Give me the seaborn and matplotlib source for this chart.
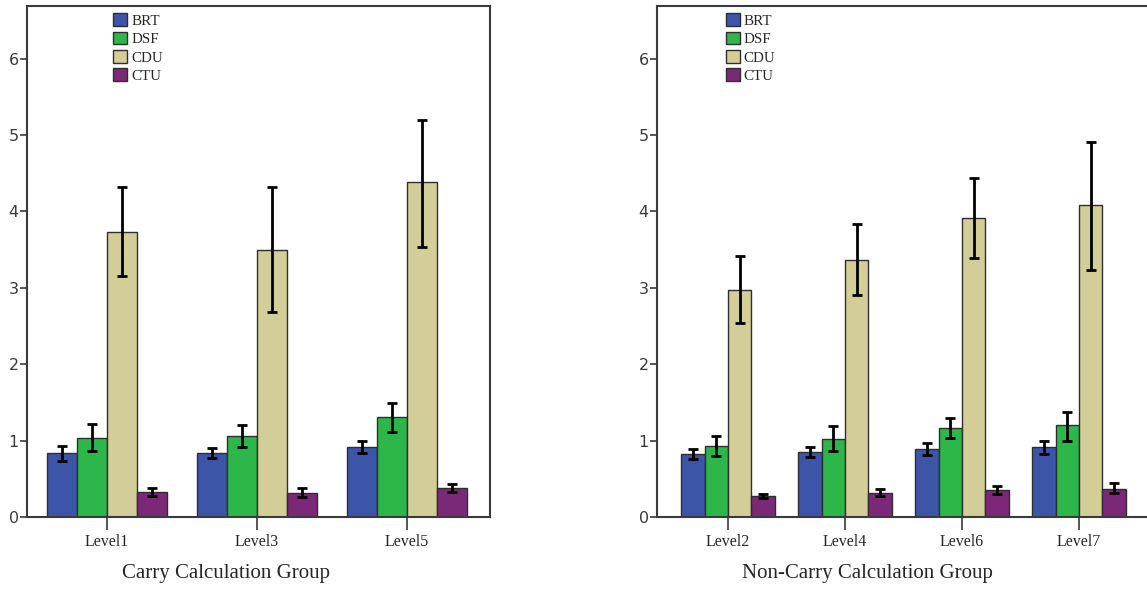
import matplotlib
matplotlib.use("Agg")
import numpy as np
import pandas as pd
import seaborn as sns
from matplotlib import pyplot as plt

# measures and colours
measures = ["BRT", "DSF", "CDU", "CTU"]
colors = ["#3d55a8", "#2db64a", "#d3ce97", "#7b2878"]

# carry calculation group
carry_levels = ["Level1", "Level3", "Level5"]
carry_means = {
    "BRT": [0.84, 0.84, 0.92],
    "DSF": [1.04, 1.06, 1.31],
    "CDU": [3.73, 3.50, 4.38],
    "CTU": [0.33, 0.32, 0.38],
}
carry_lower = {
    "BRT": [0.73, 0.77, 0.84],
    "DSF": [0.86, 0.92, 1.11],
    "CDU": [3.15, 2.68, 3.54],
    "CTU": [0.28, 0.26, 0.33],
}
carry_upper = {
    "BRT": [0.93, 0.90, 1.00],
    "DSF": [1.22, 1.20, 1.49],
    "CDU": [4.32, 4.32, 5.20],
    "CTU": [0.38, 0.38, 0.43],
}

# non-carry calculation group
noncarry_levels = ["Level2", "Level4", "Level6", "Level7"]
noncarry_means = {
    "BRT": [0.83, 0.85, 0.89, 0.91],
    "DSF": [0.93, 1.02, 1.16, 1.20],
    "CDU": [2.97, 3.37, 3.92, 4.08],
    "CTU": [0.27, 0.32, 0.35, 0.37],
}
noncarry_lower = {
    "BRT": [0.76, 0.79, 0.81, 0.82],
    "DSF": [0.80, 0.87, 1.03, 1.00],
    "CDU": [2.54, 2.91, 3.39, 3.24],
    "CTU": [0.25, 0.28, 0.30, 0.31],
}
noncarry_upper = {
    "BRT": [0.89, 0.92, 0.97, 1.00],
    "DSF": [1.06, 1.19, 1.29, 1.38],
    "CDU": [3.42, 3.83, 4.44, 4.91],
    "CTU": [0.30, 0.37, 0.40, 0.44],
}

SPINE = "#3a3a3a"


def draw_panel(ax, levels, means, lower, upper, xlabel, xlim, legend_x, label_x):
    rows = []
    for measure in measures:
        for i, lvl in enumerate(levels):
            rows.append({"level": lvl, "measure": measure, "value": means[measure][i]})
    df = pd.DataFrame(rows)

    sns.barplot(
        data=df,
        x="level",
        y="value",
        hue="measure",
        order=levels,
        hue_order=measures,
        palette=colors,
        saturation=1,
        errorbar=None,
        width=0.8,
        edgecolor="#2e2e2e",
        linewidth=1.0,
        ax=ax,
    )

    # error bars at the bar centres
    for measure, container in zip(measures, ax.containers):
        xs = [p.get_x() + p.get_width() / 2 for p in container.patches]
        m = np.array(means[measure])
        lo = np.array(lower[measure])
        hi = np.array(upper[measure])
        ax.errorbar(
            xs, m, yerr=[m - lo, hi - m], fmt="none",
            ecolor="black", elinewidth=2, capsize=3.5, capthick=2, zorder=5,
        )

    ax.set_ylim(0, 6.69)
    ax.set_xlim(*xlim)
    ax.set_yticks(range(0, 7))
    ax.set_ylabel("")
    ax.set_xlabel(xlabel, fontsize=15, family="Liberation Serif")
    ax.xaxis.set_label_coords(label_x, -0.092)

    for s in ax.spines.values():
        s.set_color(SPINE)
        s.set_linewidth(1.5)

    ax.tick_params(axis="x", bottom=True, direction="out", length=9, width=1.2,
                   color=SPINE, pad=3, labelsize=11.5)
    ax.tick_params(axis="y", left=True, direction="out", length=5, width=1.2,
                   color=SPINE, pad=1, labelsize=11.5, labelcolor="#3a3a3a")
    for t in ax.get_yticklabels():
        t.set_family("DejaVu Sans")

    handles, labels = ax.get_legend_handles_labels()
    ax.legend(
        handles, labels, loc="upper left", bbox_to_anchor=(legend_x, 0.986),
        frameon=False, fontsize=10.8, handlelength=0.95, handleheight=0.95,
        handletextpad=0.25, labelspacing=0.25, borderpad=0, borderaxespad=0,
    )


def main():
    sns.set_style("white")
    plt.rcParams["font.family"] = ["Liberation Serif", "DejaVu Serif"]

    fig = plt.figure(figsize=(11.47, 5.90), dpi=100)
    ax1 = fig.add_axes([27 / 1147, 73 / 590, 463 / 1147, 511 / 590])
    ax2 = fig.add_axes([657 / 1147, 73 / 590, 495 / 1147, 511 / 590])

    draw_panel(ax1, carry_levels, carry_means, carry_lower, carry_upper,
               "Carry Calculation Group", (-0.533, 2.553), 0.186, 0.429)
    draw_panel(ax2, noncarry_levels, noncarry_means, noncarry_lower, noncarry_upper,
               "Non-Carry Calculation Group", (-0.607, 3.624), 0.139, 0.426)

    fig.savefig("out.png", dpi=100, facecolor="white")


if __name__ == "__main__":
    main()
